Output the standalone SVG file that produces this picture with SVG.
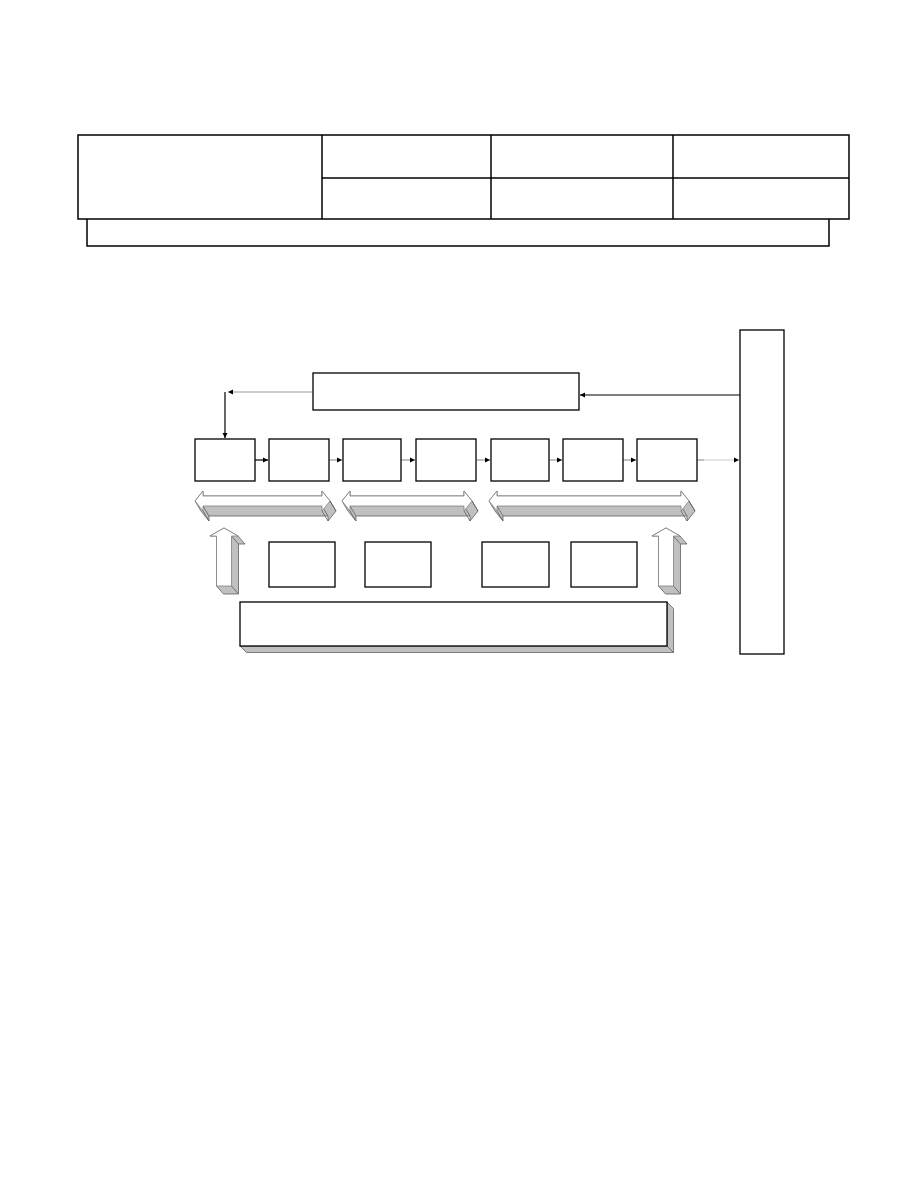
<svg xmlns="http://www.w3.org/2000/svg" width="918" height="1188" viewBox="0 0 918 1188">
<style>
.box{fill:#fff;stroke:#000;stroke-width:1.3}
.tbl{fill:none;stroke:#000;stroke-width:1.5}
.front{fill:#fff;stroke:#808080;stroke-width:0.8}
.depth{fill:#c0c0c0;stroke:#606060;stroke-width:0.8}
.edge{fill:none;stroke:#606060;stroke-width:0.8}
.cb{fill:none;stroke:#000;stroke-width:1.2}
.cg{fill:none;stroke:#999;stroke-width:1.2}
.cl{fill:none;stroke:#ddd;stroke-width:1.5}
</style>
<defs>
<marker id="ah" markerWidth="6" markerHeight="6" refX="5" refY="3" orient="auto" markerUnits="userSpaceOnUse">
<path d="M0,0.5 L5,3 L0,5.5 Z" fill="#000"/>
</marker>
</defs>
<rect width="918" height="1188" fill="#fff"/>
<g id="table">
<rect class="tbl" x="78" y="135" width="771" height="84"/>
<line class="tbl" x1="322" y1="135" x2="322" y2="219"/>
<line class="tbl" x1="491" y1="135" x2="491" y2="219"/>
<line class="tbl" x1="673" y1="135" x2="673" y2="219"/>
<line class="tbl" x1="322" y1="178" x2="849" y2="178"/>
<path class="tbl" d="M87,219 V246 H829 V219"/>
</g>
<g id="connectors">
<path class="cg" d="M313,392 H228" marker-end="url(#ah)"/>
<path class="cb" d="M225,392 V438" marker-end="url(#ah)"/>
<path class="cb" d="M740,395 H580" marker-end="url(#ah)"/>
<path class="cb" d="M255,460 H268" marker-end="url(#ah)"/>
<path class="cg" d="M329,460 H342" marker-end="url(#ah)"/>
<path class="cg" d="M401,460 H415" marker-end="url(#ah)"/>
<path class="cg" d="M476,460 H490" marker-end="url(#ah)"/>
<path class="cg" d="M549,460 H562" marker-end="url(#ah)"/>
<path class="cg" d="M623,460 H636" marker-end="url(#ah)"/>
<path class="cg" d="M697,460 H704"/>
<path class="cl" d="M704,460 H739" marker-end="url(#ah)"/>
</g>
<g id="top-box"><rect class="box" x="313" y="373" width="266" height="37"/></g>
<g id="right-box"><rect class="box" x="740" y="330" width="44" height="324"/></g>
<g id="row-1"><rect class="box" x="195" y="439" width="60" height="42"/></g>
<g id="row-2"><rect class="box" x="269" y="439" width="60" height="42"/></g>
<g id="row-3"><rect class="box" x="343" y="439" width="58" height="42"/></g>
<g id="row-4"><rect class="box" x="416" y="439" width="60" height="42"/></g>
<g id="row-5"><rect class="box" x="491" y="439" width="58" height="42"/></g>
<g id="row-6"><rect class="box" x="563" y="439" width="60" height="42"/></g>
<g id="row-7"><rect class="box" x="637" y="439" width="60" height="42"/></g>
<g id="dbl-arrow-1">
<polygon class="depth" points="195,501 203,491 203,496 322,496 322,491 330,501 336,511 328,521 328,516 209,516 209,521 201,511"/>
<path class="edge" d="M322,511 L328,521 M330,501 L336,511 M203,506 L209,516 M203,511 L209,521 M322,506 L328,516"/>
<polygon class="front" points="195,501 203,491 203,496 322,496 322,491 330,501 322,511 322,506 203,506 203,511"/>
</g>
<g id="dbl-arrow-2">
<polygon class="depth" points="342,501 350,491 350,496 464,496 464,491 472,501 478,511 470,521 470,516 356,516 356,521 348,511"/>
<path class="edge" d="M464,511 L470,521 M472,501 L478,511 M350,506 L356,516 M350,511 L356,521 M464,506 L470,516"/>
<polygon class="front" points="342,501 350,491 350,496 464,496 464,491 472,501 464,511 464,506 350,506 350,511"/>
</g>
<g id="dbl-arrow-3">
<polygon class="depth" points="489,501 497,491 497,496 681,496 681,491 689,501 695,511 687,521 687,516 503,516 503,521 495,511"/>
<path class="edge" d="M681,511 L687,521 M689,501 L695,511 M497,506 L503,516 M497,511 L503,521 M681,506 L687,516"/>
<polygon class="front" points="489,501 497,491 497,496 681,496 681,491 689,501 681,511 681,506 497,506 497,511"/>
</g>
<g id="up-arrow-1">
<polygon class="depth" points="224,528 238,536 245,544 238.5,544 238.5,594 223.5,594 216.5,586 216.5,536 210,536"/>
<path class="edge" d="M231.5,536 L238.5,544 M231.5,586 L238.5,594"/>
<polygon class="front" points="224,528 238,536 231.5,536 231.5,586 216.5,586 216.5,536 210,536"/>
</g>
<g id="up-arrow-2">
<polygon class="depth" points="666,528 680,536 687,544 680.5,544 680.5,594 665.5,594 658.5,586 658.5,536 652,536"/>
<path class="edge" d="M673.5,536 L680.5,544 M673.5,586 L680.5,594"/>
<polygon class="front" points="666,528 680,536 673.5,536 673.5,586 658.5,586 658.5,536 652,536"/>
</g>
<g id="mid-1"><rect class="box" x="269" y="542" width="66" height="45"/></g>
<g id="mid-2"><rect class="box" x="365" y="542" width="66" height="45"/></g>
<g id="mid-3"><rect class="box" x="482" y="542" width="67" height="45"/></g>
<g id="mid-4"><rect class="box" x="571" y="542" width="66" height="45"/></g>
<g id="bottom-box">
<polygon class="depth" points="667,602 673.5,608.5 673.5,652.5 246.5,652.5 240,646 667,646"/>
<path class="edge" d="M667,646 L673.5,652.5"/>
<rect class="box" x="240" y="602" width="427" height="44"/>
</g>
</svg>
